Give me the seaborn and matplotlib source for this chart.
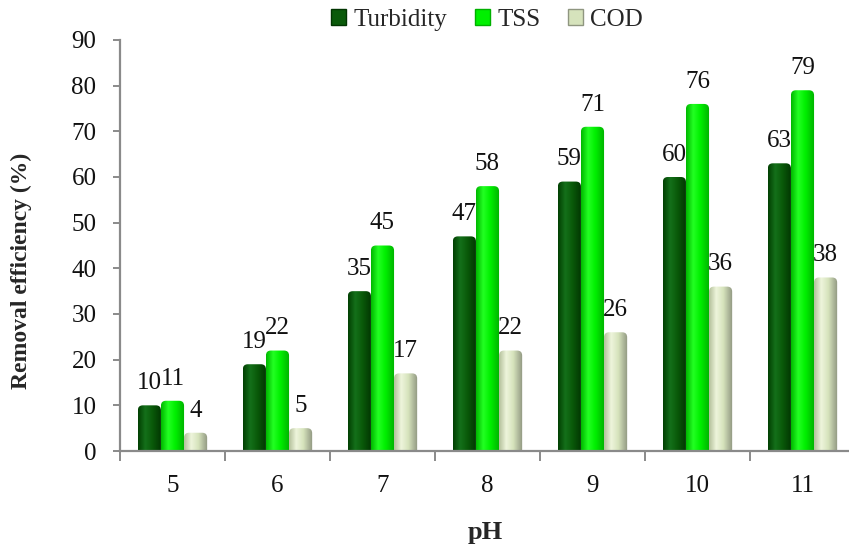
import numpy as np
import pandas as pd
import matplotlib
matplotlib.use("Agg")
import matplotlib.pyplot as plt
import seaborn as sns
from matplotlib.colors import LinearSegmentedColormap
from matplotlib.patches import FancyBboxPatch, Patch

# Removal efficiency (%) versus pH
ph_levels = ["5", "6", "7", "8", "9", "10", "11"]
turbidity = [10, 19, 35, 47, 59, 60, 63]
tss = [11, 22, 45, 58, 71, 76, 79]
cod = [4, 5, 17, 22, 26, 36, 38]
series_names = ["Turbidity", "TSS", "COD"]

df = pd.DataFrame({
    "pH": ph_levels * 3,
    "value": turbidity + tss + cod,
    "series": sum([[s] * len(ph_levels) for s in series_names], []),
})

base_colors = {"Turbidity": "#0b5e0b", "TSS": "#00ee00", "COD": "#d4e2b8"}
# left edge, highlight, body, right edge for the cylinder shading
shades = {
    "Turbidity": ["#024002", "#14701a", "#0a5a0a", "#013501"],
    "TSS": ["#00b800", "#22ff22", "#00f000", "#00b000"],
    "COD": ["#b4c09a", "#eef5dc", "#d6e3bc", "#8f9680"],
}

sns.set_theme(style="white")
plt.rcParams["font.family"] = ["Liberation Serif", "DejaVu Serif"]

FS = 18

fig = plt.figure(figsize=(8.49, 5.51), dpi=100)
ax = fig.add_axes([120 / 849, 100 / 551, 735 / 849, 411 / 551])

sns.barplot(data=df, x="pH", y="value", hue="series", order=ph_levels,
            hue_order=series_names, palette=base_colors, width=0.66,
            dodge=True, ax=ax, legend=False, gap=0, saturation=1)

ax.set_ylim(0, 90)
ax.set_xlim(-0.5, len(ph_levels) - 0.5)

# units per pixel along x and y, used to round the bar tops
x_per_px = 1 / 105.0
y_per_px = 90 / 411.0
aspect = y_per_px / x_per_px

n = len(ph_levels)
for i, patch in enumerate(list(ax.patches)):
    s = series_names[i // n]
    x0 = patch.get_x()
    w = patch.get_width()
    h = patch.get_height()
    patch.set_visible(False)
    cmap = LinearSegmentedColormap.from_list(
        s, list(zip([0.0, 0.3, 0.6, 1.0], shades[s])))
    grad = np.linspace(0, 1, 64).reshape(1, -1)
    clip = FancyBboxPatch((x0, -3), w, h + 3,
                          boxstyle="round,pad=0,rounding_size=%f" % (5 * x_per_px),
                          mutation_aspect=aspect, transform=ax.transData,
                          facecolor="none", edgecolor="none")
    ax.add_patch(clip)
    im = ax.imshow(grad, cmap=cmap, aspect="auto",
                   extent=(x0, x0 + w, 0, h), origin="lower", zorder=2,
                   interpolation="bilinear")
    im.set_clip_path(clip)
    ax.annotate(f"{h:g}", (x0 + w / 2, h), xytext=(0, 16),
                textcoords="offset points", ha="center", va="center",
                fontsize=FS, color="#111111")

ax.set_xlim(-0.5, len(ph_levels) - 0.5)
ax.set_ylim(0, 90)

# axes styling
for side in ["top", "right"]:
    ax.spines[side].set_visible(False)
for side in ["left", "bottom"]:
    ax.spines[side].set_color("#8a8a8a")
    ax.spines[side].set_linewidth(1.6)

ax.set_yticks(range(0, 91, 10))
ax.tick_params(axis="y", which="major", direction="out", length=5,
               width=1.4, color="#8a8a8a", pad=12, labelsize=FS,
               left=True, labelcolor="#111111")
ax.set_xticks(range(n))
ax.set_xticklabels(ph_levels)
ax.set_xticks(np.arange(-0.5, n, 1.0), minor=True)
ax.tick_params(axis="x", which="major", length=0, pad=17, labelsize=FS,
               labelcolor="#111111")
ax.tick_params(axis="x", which="minor", direction="out", length=7,
               width=1.4, color="#8a8a8a", bottom=True)
ax.grid(False)
ax.set_xlabel("")
ax.set_ylabel("")

fig.text(485 / 849, 1 - 532 / 551, "pH", ha="center", va="center",
         fontsize=19, fontweight="bold")
fig.text(21 / 849, 1 - 271 / 551, "Removal efficiency (%)", ha="center",
         va="center", rotation=90, fontsize=17, fontweight="bold")

handles = [Patch(facecolor=shades[s][2], edgecolor=shades[s][3], linewidth=1.0)
           for s in series_names]
fig.legend(handles, series_names, loc="center", ncol=3,
           bbox_to_anchor=(487 / 849, 1 - 20 / 551), frameon=False,
           fontsize=FS, handlelength=0.6, handleheight=0.6,
           handletextpad=0.3, columnspacing=1.1)

fig.savefig("out.png", dpi=100)
